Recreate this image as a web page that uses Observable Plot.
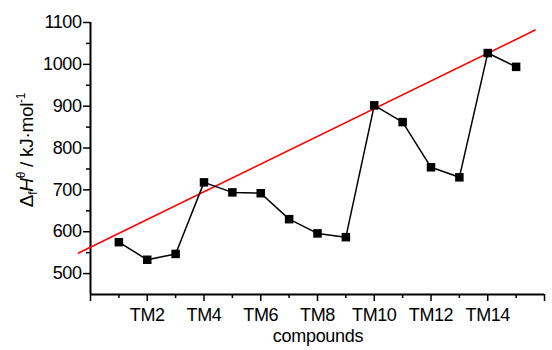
<!DOCTYPE html>
<html>
<head>
<meta charset="utf-8">
<script src="https://cdn.jsdelivr.net/npm/d3@7"></script>
<script src="https://cdn.jsdelivr.net/npm/@observablehq/plot@0.6"></script>
<style>
  html, body { margin: 0; padding: 0; background: #fff; }
  svg { font-family: "Liberation Sans", Arial, sans-serif; }
</style>
</head>
<body>
<div id="chart"></div>
<script>
// Data
const compounds = [1, 2, 3, 4, 5, 6, 7, 8, 9, 10, 11, 12, 13, 14, 15];
const enthalpy = [575, 533, 547, 718, 694, 692, 630, 596, 587, 902, 862, 754, 730, 1027, 994];
// linear fit line endpoints
const fitX = [-0.42, 15.67];
const fitY = [549, 1082];
// axis ticks
const yMajor = [500, 600, 700, 800, 900, 1000, 1100];
const yMinor = [550, 650, 750, 850, 950, 1050];
const xMajor = [0, 2, 4, 6, 8, 10, 12, 14, 16];
const xMinor = [1, 3, 5, 7, 9, 11, 13, 15];
const xLabeled = [2, 4, 6, 8, 10, 12, 14];

const points = compounds.map((c, i) => ({x: c, y: enthalpy[i]}));
const fit = fitX.map((x, i) => ({x, y: fitY[i]}));

const svg = Plot.plot({
  width: 552,
  height: 350,
  marginLeft: 90,
  marginRight: 8,
  marginTop: 22,
  marginBottom: 56,
  style: {fontFamily: '"Liberation Sans", Arial, sans-serif', background: "white", color: "black"},
  x: {domain: [0, 16]},
  y: {domain: [450, 1100]},
  marks: [
    Plot.axisY(yMajor, {tickSize: 7, tickPadding: 2, fontSize: 18, label: null, strokeWidth: 1.5,
      tickFormat: d => String(d)}),
    Plot.axisY(yMinor, {tickSize: 4, text: null, label: null, strokeWidth: 1.5}),
    Plot.axisX(xMajor, {tickSize: 7, tickPadding: 7, fontSize: 18, label: null, strokeWidth: 1.5,
      tickFormat: d => xLabeled.includes(d) ? "TM" + d : ""}),
    Plot.axisX(xMinor, {tickSize: 4, text: null, label: null, strokeWidth: 1.5}),
    Plot.ruleX([0], {strokeWidth: 2}),
    Plot.ruleY([450], {strokeWidth: 2}),
    Plot.line(fit, {x: "x", y: "y", stroke: "#ff0000", strokeWidth: 1.6}),
    Plot.line(points, {x: "x", y: "y", stroke: "black", strokeWidth: 1.5}),
    Plot.dot(points, {x: "x", y: "y", symbol: "square", r: 4.8, fill: "black", stroke: "none"})
  ]
});

const s = d3.select(svg);
s.selectAll("g[aria-label='y-axis tick label'] text, g[aria-label='x-axis tick label'] text")
  .attr("letter-spacing", -0.4);

// x axis title
s.append("text")
  .attr("x", 318).attr("y", 342)
  .attr("text-anchor", "middle")
  .attr("font-size", 18)
  .attr("letter-spacing", -0.3)
  .attr("fill", "black")
  .text("compounds");

// y axis title
const yl = s.append("text")
  .attr("transform", "translate(33,150) rotate(-90)")
  .attr("text-anchor", "middle")
  .attr("font-size", 19)
  .attr("letter-spacing", -0.3)
  .attr("fill", "black");
yl.append("tspan").text("Δ");
yl.append("tspan").attr("font-size", 12).attr("dy", 4).text("f");
yl.append("tspan").attr("font-style", "italic").attr("dy", -4).text("H");
yl.append("tspan").attr("font-size", 12).attr("dy", -8).text("θ");
yl.append("tspan").attr("dy", 8).text(" / kJ·mol");
yl.append("tspan").attr("font-size", 12).attr("dy", -8).text("-1");

document.getElementById("chart").appendChild(svg);
</script>
</body>
</html>
